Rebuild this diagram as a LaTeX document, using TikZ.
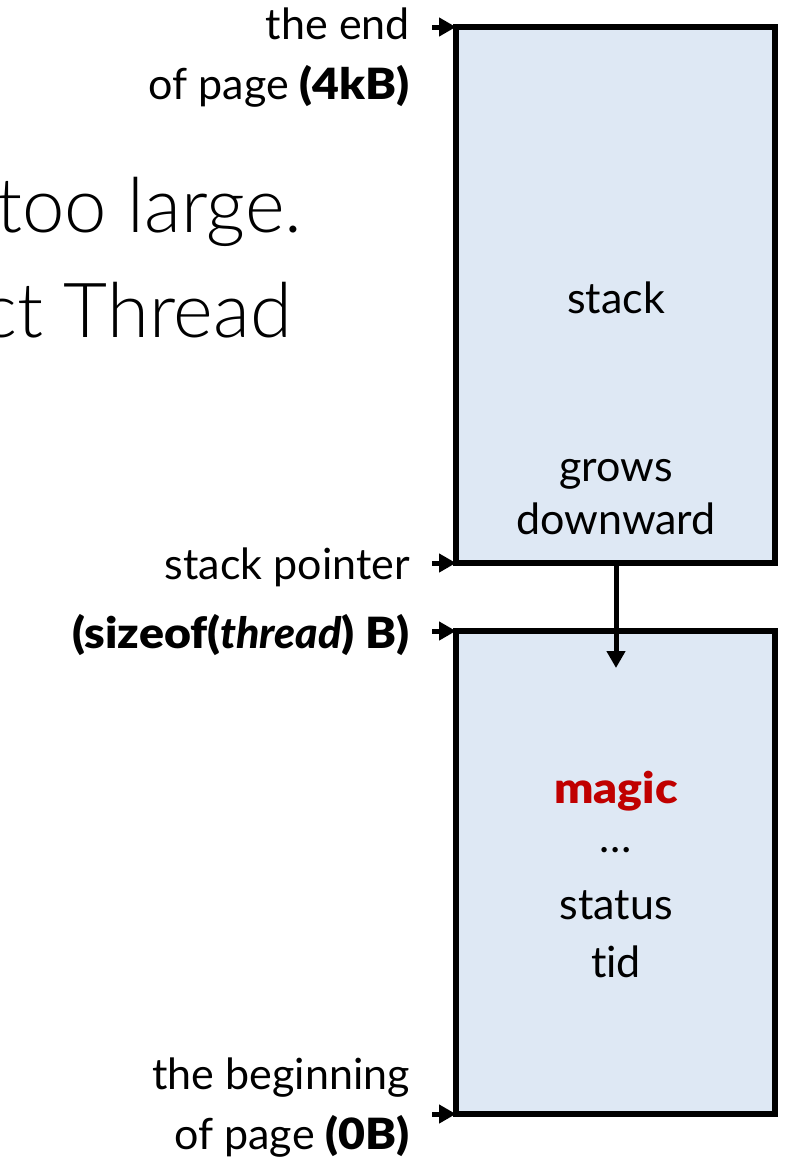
\documentclass[tikz,border=0pt]{standalone}
\usepackage{fontspec}
\IfFontExistsTF{Lato Black}
  {\setmainfont{Lato}[Ligatures=NoCommon, BoldFont={Lato Black}, BoldFeatures={FakeStretch=1.08}, BoldItalicFont={Lato Black Italic}]}
  {\setmainfont{Lato}[Ligatures=NoCommon, BoldFeatures={FakeStretch=1.15}]}
\IfFontExistsTF{Lato Light}{\newfontfamily\bigfont{Lato Light}}{\newfontfamily\bigfont{Lato}}
\usetikzlibrary{arrows.meta}
\definecolor{boxfill}{HTML}{DEE8F4}
\definecolor{magicred}{HTML}{C00000}
\tikzset{
  membox/.style={draw=black, line width=6pt, fill=boxfill},
  lab/.style={anchor=east, align=right, font=\fontsize{43}{60}\selectfont, inner sep=0pt},
  intext/.style={font=\fontsize{43}{53}\selectfont, inner sep=0pt, align=center},
  ptr/.style={line width=5pt, -{Triangle[length=17pt,width=18pt]}},
  bigtext/.style={anchor=base west, font=\bigfont\fontsize{76}{80}\selectfont, inner sep=0pt}
}
\begin{document}
\begin{tikzpicture}[x=1pt,y=-1pt]
\useasboundingbox (0,0) rectangle (785,1159);
% background text
\node[bigtext] (bg1) at (-4,232) {too large.};
\node[bigtext] (bg2) at (-19,337) {ct Thread};
% boxes
\coordinate (box1nw) at (456,27);
\coordinate (box1se) at (775,563);
\coordinate (box1sw) at (456,563);
\coordinate (box1s) at (616,563);
\coordinate (box2nw) at (456,631);
\coordinate (box2se) at (775,1114);
\coordinate (box2sw) at (456,1114);
\coordinate (arrowend) at (616,668);
\draw[membox] (box1nw) rectangle (box1se);
\draw[membox] (box2nw) rectangle (box2se);
% box texts
\node[intext] (stack) at (616,298) {stack};
\node[intext] (grows) at (616,497) {grows\\downward};
\node[intext, text=magicred, font=\bfseries\fontsize{43}{53}\selectfont] (magic) at (616,791) {magic};
\node[intext] (dots) at (616,850) {\dots};
\node[intext] (status) at (616,905) {status};
\node[intext] (tid) at (616,962) {tid};
% labels
\node[lab] (lend) at (410,58) {the end\\of page \textbf{(4kB)}};
\node[lab] (lsp) at (410,567) {stack pointer};
\node[lab] (lsz) at (410,635) {\textbf{(sizeof(\textit{thread}) B)}};
\node[lab] (lbeg) at (410,1108) {the beginning\\of page \textbf{(0B)}};
% pointer arrows
\coordinate (s1) at (432,27);
\coordinate (s2) at (432,563);
\coordinate (s3) at (432,631);
\coordinate (s4) at (432,1114);
\draw[ptr] (s1) -- (box1nw);
\draw[ptr] (s2) -- (box1sw);
\draw[ptr] (s3) -- (box2nw);
\draw[ptr] (s4) -- (box2sw);
\draw[ptr] (box1s) -- (arrowend);
\end{tikzpicture}
\end{document}
